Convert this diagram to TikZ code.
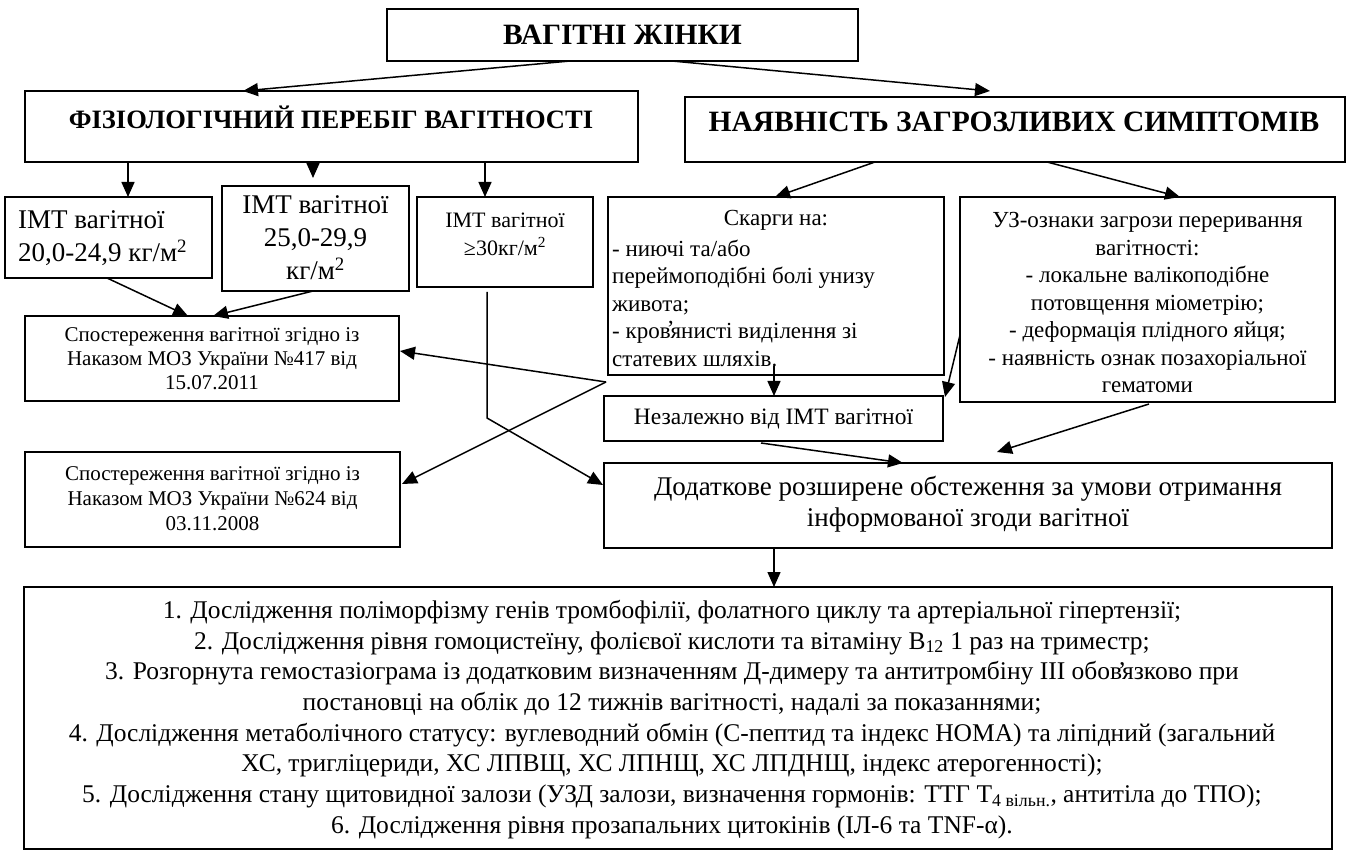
\documentclass[tikz,border=0pt]{standalone}
\usepackage{fontspec}
\setmainfont{Liberation Serif}
\usetikzlibrary{arrows.meta}
\newcommand{\apo}[1]{\makebox[0pt]{\raisebox{#1}{’}}}
\begin{document}
\begin{tikzpicture}[x=1pt,y=-1pt,
  box/.style={draw, line width=1.6pt, rectangle, anchor=north west, inner sep=0pt, outer sep=0pt},
  con/.style={line width=1.5pt, -{Triangle[length=15pt,width=13pt]}},
  txt/.style={inner sep=0pt, align=center},
  fA/.style={font={\fontsize{29.5}{34}\selectfont\bfseries}},
  fB/.style={font={\fontsize{26.5}{30}\selectfont\bfseries}},
  fI/.style={font={\fontsize{27}{33}\selectfont}},
  fJ/.style={font={\fontsize{22}{28}\selectfont}},
  fK/.style={font={\fontsize{23}{27.5}\selectfont}},
  fN/.style={font={\fontsize{23.5}{28}\selectfont}},
  fS/.style={font={\fontsize{21}{24}\selectfont}},
  fS2/.style={font={\fontsize{21}{25}\selectfont}},
  fD/.style={font={\fontsize{27}{31}\selectfont}},
  fL/.style={font={\fontsize{25.5}{30.7}\selectfont}},
]
\useasboundingbox (0,0) rectangle (1350,850);
\fill[white] (0,0) rectangle (1350,850);

% boxes
\node[box, minimum width=471pt, minimum height=52pt] (top) at (387,9) {};
\node[box, minimum width=613pt, minimum height=71pt] (fiz) at (25,91) {};
\node[box, minimum width=660pt, minimum height=65pt] (nay) at (685,97) {};
\node[box, minimum width=207pt, minimum height=81pt] (imt1) at (5,197) {};
\node[box, minimum width=187pt, minimum height=105pt] (imt2) at (222,186) {};
\node[box, minimum width=176pt, minimum height=90pt] (imt3) at (417,197) {};
\node[box, minimum width=336pt, minimum height=178pt] (skg) at (608,197) {};
\node[box, minimum width=375pt, minimum height=205pt] (uz) at (960,197) {};
\node[box, minimum width=374pt, minimum height=85pt] (s417) at (25,316) {};
\node[box, minimum width=375pt, minimum height=95pt] (s624) at (25,452) {};
\node[box, minimum width=339pt, minimum height=45pt] (nez) at (604,396) {};
\node[box, minimum width=728pt, minimum height=85pt] (dod) at (604,463) {};
\node[box, minimum width=1308pt, minimum height=262pt] (big) at (24,587) {};

% texts
\node[txt, fA] (ttop) at (top.center) {ВАГІТНІ ЖІНКИ};
\node[txt, fB] (tfiz) at (331,117) {ФІЗІОЛОГІЧНИЙ ПЕРЕБІГ ВАГІТНОСТІ};
\node[txt, fA] (tnay) at (1014,122) {НАЯВНІСТЬ ЗАГРОЗЛИВИХ СИМПТОМІВ};
\node[txt, fI, align=left, anchor=west] (timt1) at (18,238) {ІМТ вагітної\\20,0-24,9 кг/м\textsuperscript{2}};
\node[txt, fI] (timt2) at (315.5,238) {ІМТ вагітної\\25,0-29,9\\кг/м\textsuperscript{2}};
\node[txt, fJ] (timt3) at (505,234) {ІМТ вагітної\\≥30кг/м\textsuperscript{2}};
\node[txt, fK] (tskg1) at (776,220) {Скарги на:};
\node[txt, fK, align=left, anchor=west] (tskg2) at (612,303) {- ниючі та/або\\переймоподібні болі унизу\\живота;\\- кров\apo{0.1em}янисті виділення зі\\статевих шляхів.};
\node[txt, fK] (tuz) at (1147.5,302.5) {УЗ-ознаки загрози переривання\\вагітності:\\- локальне валікоподібне\\потовщення міометрію;\\- деформація плідного яйця;\\- наявність ознак позахоріальної\\гематоми};
\node[txt, fS] (t417) at (212,359) {Спостереження вагітної згідно із\\Наказом МОЗ України №417 від\\15.07.2011};
\node[txt, fS2] (t624) at (212.5,499) {Спостереження вагітної згідно із\\Наказом МОЗ України №624 від\\03.11.2008};
\node[txt, fN] (tnez) at (nez.center) {Незалежно від ІМТ вагітної};
\node[txt, fD] (tdod) at (968,504) {Додаткове розширене обстеження за умови отримання\\інформованої згоди вагітної};
\node[txt, fL] (tbig) at (672,719.5) {1. Дослідження поліморфізму генів тромбофілії, фолатного циклу та артеріальної гіпертензії;\\
2. Дослідження рівня гомоцистеїну, фолієвої кислоти та вітаміну B\textsubscript{12} 1 раз на триместр;\\
3. Розгорнута гемостазіограма із додатковим визначенням Д-димеру та антитромбіну III обов\apo{0pt}язково при\\
постановці на облік до 12 тижнів вагітності, надалі за показаннями;\\
4. Дослідження метаболічного статусу: вуглеводний обмін (С-пептид та індекс НОМА) та ліпідний (загальний\\
ХС, тригліцериди, ХС ЛПВЩ, ХС ЛПНЩ, ХС ЛПДНЩ, індекс атерогенності);\\
5. Дослідження стану щитовидної залози (УЗД залози, визначення гормонів: ТТГ Т\textsubscript{4 вільн.}, антитіла до ТПО);\\
6. Дослідження рівня прозапальних цитокінів (ІЛ-6 та TNF-α).};

% connectors
\coordinate (v) at (606,382);
\draw[con] ([xshift=183pt]top.south west) -- ([xshift=218pt]fiz.north west);
\draw[con] ([xshift=285pt]top.south west) -- ([xshift=305pt,yshift=6pt]nay.north west);
\draw[con] ([xshift=103pt]fiz.south west) -- ([xshift=123pt]imt1.north west);
\draw[con] ([xshift=288pt]fiz.south west) -- ([xshift=91pt,yshift=8pt]imt2.north west);
\draw[con] ([xshift=460pt]fiz.south west) -- ([xshift=68pt]imt3.north west);
\draw[con] ([xshift=190pt]nay.south west) -- ([xshift=167pt]skg.north west);
\draw[con] ([xshift=362pt]nay.south west) -- ([xshift=220pt]uz.north west);
\draw[con] ([xshift=102pt]imt1.south west) -- ([xshift=163pt]s417.north west);
\draw[con] ([xshift=91pt]imt2.south west) -- ([xshift=188pt]s417.north west);
\draw[con] (v) -- ([xshift=1pt,yshift=7.5pt]s417.east);
\draw[con] (v) -- ([xshift=2pt,yshift=15.5pt]s624.east);
\draw[con] ([xshift=70pt,yshift=-5pt]imt3.south west) -- ++(0,126) -- ([xshift=-1pt,yshift=-22pt]dod.north west);
\draw[con] ([xshift=166pt,yshift=9pt]skg.south west) -- ([xshift=170pt]nez.north west);
\draw[con] ([yshift=-35.5pt]uz.west) -- ([xshift=2pt,yshift=-1pt]nez.north east);
\draw[con] ([xshift=189pt,yshift=-2pt]uz.south west) -- ([xshift=393pt,yshift=11pt]dod.north west);
\draw[con] ([xshift=157pt,yshift=-2pt]nez.south west) -- ([xshift=299pt]dod.north west);
\draw[con] ([xshift=170pt]dod.south west) -- ([xshift=750pt]big.north west);
\end{tikzpicture}
\end{document}
